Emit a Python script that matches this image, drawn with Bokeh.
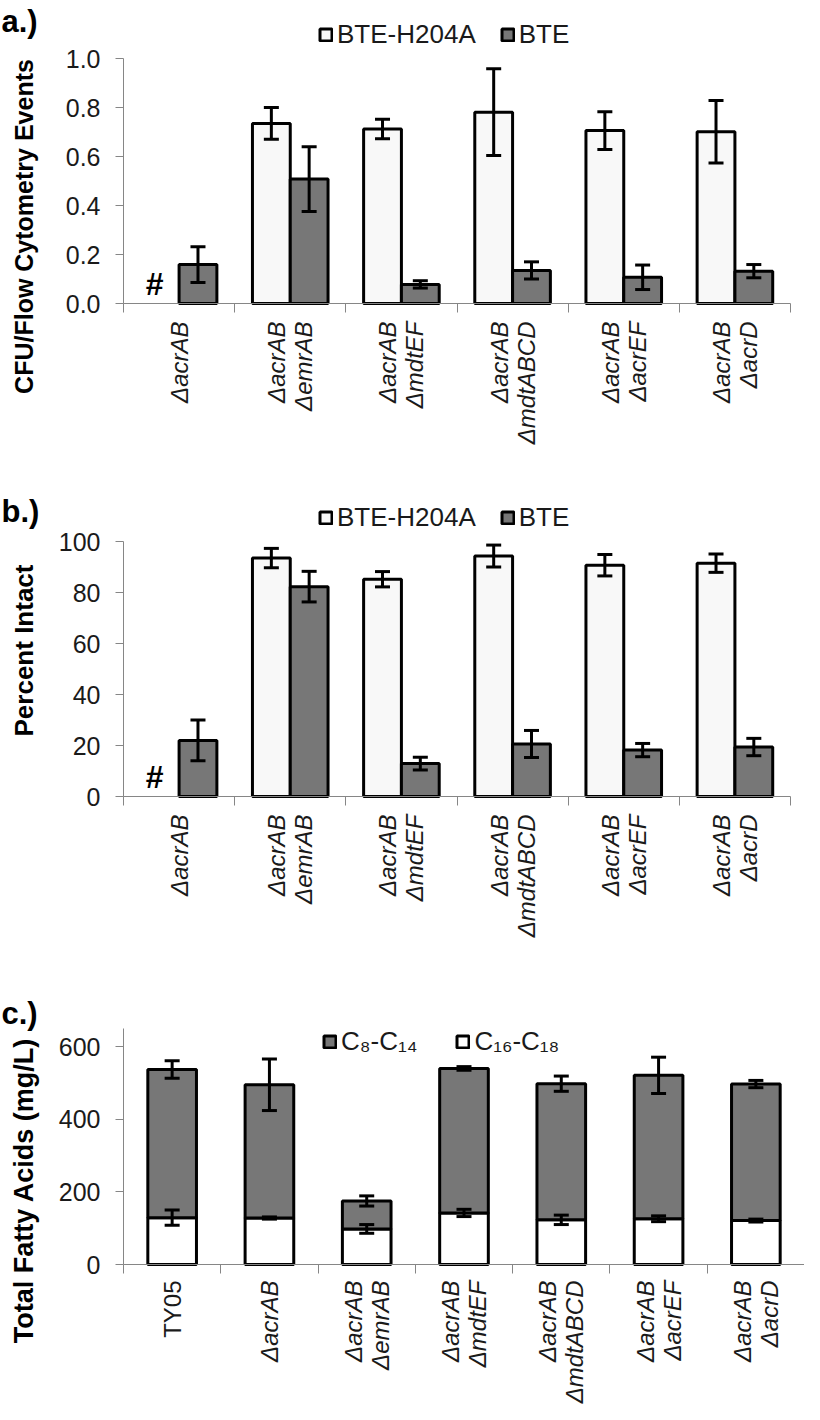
import math
from bokeh.plotting import figure
from bokeh.models import (Range1d, FixedTicker, Whisker, TeeHead, ColumnDataSource,
                          Legend, LegendItem, NumeralTickFormatter)
from bokeh.layouts import column
from bokeh.embed import file_html
from bokeh.resources import INLINE
from bokeh.core.properties import value

NAN = float("nan")

# ---------------- data ----------------
strains_ab = ["ΔacrAB", "ΔacrAB\nΔemrAB", "ΔacrAB\nΔmdtEF", "ΔacrAB\nΔmdtABCD",
              "ΔacrAB\nΔacrEF", "ΔacrAB\nΔacrD"]
series_ab = ["BTE-H204A", "BTE"]

a_h204a = [NAN, 0.735, 0.712, 0.781, 0.706, 0.701]
a_h204a_err = [NAN, 0.065, 0.040, 0.177, 0.077, 0.128]
a_bte = [0.159, 0.508, 0.078, 0.135, 0.107, 0.132]
a_bte_err = [0.073, 0.132, 0.015, 0.035, 0.050, 0.027]
a_ticks = [0.0, 0.2, 0.4, 0.6, 0.8, 1.0]

b_h204a = [NAN, 93.5, 85.2, 94.3, 90.7, 91.5]
b_h204a_err = [NAN, 3.8, 3.0, 4.3, 4.2, 3.6]
b_bte = [22.0, 82.3, 12.9, 20.6, 18.2, 19.4]
b_bte_err = [8.0, 6.0, 2.5, 5.3, 2.6, 3.4]
b_ticks = [0, 20, 40, 60, 80, 100]

strains_c = ["TY05", "ΔacrAB", "ΔacrAB\nΔemrAB", "ΔacrAB\nΔmdtEF", "ΔacrAB\nΔmdtABCD",
             "ΔacrAB\nΔacrEF", "ΔacrAB\nΔacrD"]
series_c = ["C₈-C₁₄", "C₁₆-C₁₈"]
c_long = [129, 128, 98, 142, 123, 126, 121]        # C16-C18 (bottom)
c_long_err = [21, 3, 12, 10, 13, 8, 4]
c_short = [408, 367, 77, 398, 375, 395, 376]       # C8-C14 (top)
c_short_err = [24, 71, 14, 5, 21, 50, 10]
c_ticks = [0, 200, 400, 600]

# ---------------- style / layout ----------------
FONT = "Liberation Sans"
GRAY = "#868686"
TXT = "#1a1a1a"
LIGHT = "#f8f8f8"
DARK = "#777777"
W = 804          # figure width
AX = 123         # pixel column of the value axis


class Geo:
    """Pixel layout of one panel; the plotting frame covers the whole canvas."""
    def __init__(self, H, n, y0, ytop, ymax, xright):
        self.H, self.n, self.y0, self.ymax = H, n, y0, ymax
        self.ppy = (y0 - ytop) / ymax
        ppx = (xright - AX) / n
        self.x0 = -0.5 - AX / ppx
        self.x1 = n - 0.5 + (W - xright) / ppx
        self.yb = -(H - y0) / self.ppy
        self.yt = ymax + ytop / self.ppy

    def ydata(self, px):
        return (self.y0 - px) / self.ppy


def base_fig(g, ticks, ylabel, ylab_size, ylab_px, letter, letter_px):
    p = figure(width=W, height=g.H, output_backend="svg", toolbar_location=None,
               x_range=Range1d(g.x0, g.x1), y_range=Range1d(g.yb, g.yt),
               min_border=0, min_border_left=0, min_border_right=0,
               min_border_top=0, min_border_bottom=0)
    p.title.visible = False
    p.outline_line_color = None
    p.xgrid.grid_line_color = None
    p.ygrid.grid_line_color = None
    p.background_fill_color = "white"
    p.border_fill_color = "white"

    ya = p.yaxis[0]
    ya.fixed_location = -0.5
    ya.bounds = (0, g.ymax)
    ya.ticker = FixedTicker(ticks=ticks)
    ya.axis_line_color = GRAY
    ya.major_tick_line_color = GRAY
    ya.major_tick_out = 8
    ya.major_tick_in = 0
    ya.minor_tick_line_color = None
    ya.major_label_standoff = 15
    ya.major_label_text_font = FONT
    ya.major_label_text_font_size = "25px"
    ya.major_label_text_color = TXT

    xa = p.xaxis[0]
    xa.fixed_location = 0
    xa.bounds = (-0.5, g.n - 0.5)
    xa.ticker = FixedTicker(ticks=list(range(g.n)), minor_ticks=[i - 0.5 for i in range(g.n + 1)])
    xa.axis_line_color = GRAY
    xa.major_tick_line_color = None
    xa.major_tick_out = 8
    xa.major_tick_in = 0
    xa.minor_tick_line_color = GRAY
    xa.minor_tick_out = 9
    xa.minor_tick_in = 0
    xa.major_label_standoff = 9
    xa.major_label_orientation = math.pi / 2
    xa.major_label_text_font = FONT
    xa.major_label_text_font_size = "24px"
    xa.major_label_text_font_style = "italic"
    xa.major_label_text_color = TXT
    xa.major_label_text_line_height = 1.0

    # value-axis title
    p.text(x=[g.x0], y=[g.ydata(ylab_px)], text=[ylabel], angle=math.pi / 2, x_offset=23,
           text_font=value(FONT), text_font_size=ylab_size, text_font_style="bold",
           text_color="black", text_align="center", text_baseline="middle")
    # panel letter
    p.text(x=[g.x0], y=[g.yt], text=[letter], x_offset=1, y_offset=letter_px,
           text_font=value(FONT), text_font_size="31px", text_font_style="bold",
           text_color="black", text_align="left", text_baseline="top")
    return p


def whisker(p, src):
    p.add_layout(Whisker(base="x", upper="upper", lower="lower", source=src, level="annotation",
                         dimension="height", line_color="black", line_width=3,
                         upper_head=TeeHead(size=15, line_color="black", line_width=3),
                         lower_head=TeeHead(size=15, line_color="black", line_width=3)))


def grouped_panel(g, white, white_err, dark, dark_err, ticks, ylabel, ylab_size, ylab_px,
                  letter, letter_px, legend_loc, fmt=None):
    n = g.n
    p = base_fig(g, ticks, ylabel, ylab_size, ylab_px, letter, letter_px)
    if fmt:
        p.yaxis[0].formatter = NumeralTickFormatter(format=fmt)
    p.xaxis[0].major_label_overrides = {i: s for i, s in enumerate(strains_ab)}
    bw = 0.34
    wi = [i for i in range(n) if white[i] == white[i]]
    src_w = ColumnDataSource(dict(
        x=[i - bw / 2 for i in wi], top=[white[i] for i in wi],
        upper=[white[i] + white_err[i] for i in wi], lower=[white[i] - white_err[i] for i in wi]))
    src_d = ColumnDataSource(dict(
        x=[i + bw / 2 for i in range(n)], top=dark,
        upper=[d + e for d, e in zip(dark, dark_err)], lower=[d - e for d, e in zip(dark, dark_err)]))
    rw = p.vbar(x="x", top="top", width=bw, bottom=0, source=src_w,
                fill_color=LIGHT, line_color="black", line_width=3)
    rd = p.vbar(x="x", top="top", width=bw, bottom=0, source=src_d,
                fill_color=DARK, line_color="black", line_width=3)
    whisker(p, src_w)
    whisker(p, src_d)
    # '#' marks the strain without a BTE-H204A measurement
    missing = [i for i in range(n) if white[i] != white[i]]
    p.text(x=[i - 0.22 for i in missing], y=[0] * len(missing), text=["#"] * len(missing),
           text_font=value(FONT), text_font_size="32px", text_font_style="bold",
           text_color="black", text_align="center", text_baseline="bottom", y_offset=-2)

    leg = Legend(items=[LegendItem(label=series_ab[0], renderers=[rw]),
                        LegendItem(label=series_ab[1], renderers=[rd])],
                 orientation="horizontal", location=legend_loc,
                 label_text_font=FONT, label_text_font_size="26px", label_text_color=TXT,
                 glyph_width=15, glyph_height=15, label_standoff=4, spacing=24,
                 padding=0, margin=0, border_line_color=None, background_fill_alpha=0)
    p.add_layout(leg, "center")
    return p


# panel a
ga = Geo(470, len(strains_ab), 303, 58, 1.0, 790)
pa = grouped_panel(ga, a_h204a, a_h204a_err, a_bte, a_bte_err, a_ticks,
                   "CFU/Flow Cytometry Events", "25px", 226, "a.)", 3, (318, 420), fmt="0.0")
# panel b
gb = Geo(470, len(strains_ab), 326, 71, 100, 790)
pb = grouped_panel(gb, b_h204a, b_h204a_err, b_bte, b_bte_err, b_ticks,
                   "Percent Intact", "26px", 180, "b.)", 23, (318, 407))

# panel c
gc = Geo(464, len(strains_c), 324, 88, 650, 804)
pc = base_fig(gc, c_ticks, "Total Fatty Acids (mg/L)", "27px", 250, "c.)", 55)
pc.xaxis[0].major_label_standoff = 7
pc.xaxis[0].major_label_overrides = {i: (s if i > 0 else "") for i, s in enumerate(strains_c)}
nc = gc.n
src_c = ColumnDataSource(dict(x=list(range(nc)), long=c_long, short=c_short))
rs = pc.vbar_stack(["long", "short"], x="x", width=0.5, source=src_c,
                   fill_color=["white", DARK], line_color="black", line_width=3)
tot = [a + b for a, b in zip(c_long, c_short)]
src_el = ColumnDataSource(dict(x=list(range(nc)),
                               upper=[v + e for v, e in zip(c_long, c_long_err)],
                               lower=[v - e for v, e in zip(c_long, c_long_err)]))
src_es = ColumnDataSource(dict(x=list(range(nc)),
                               upper=[v + e for v, e in zip(tot, c_short_err)],
                               lower=[v - e for v, e in zip(tot, c_short_err)]))
whisker(pc, src_el)
whisker(pc, src_es)
# upright (non-italic) name of the parent strain under the first group
pc.text(x=[0], y=[0], text=[strains_c[0]], angle=math.pi / 2, y_offset=16,
        text_font=value(FONT), text_font_size="24px", text_color=TXT,
        text_align="right", text_baseline="middle")
legc = Legend(items=[LegendItem(label=series_c[0], renderers=[rs[1]]),
                     LegendItem(label=series_c[1], renderers=[rs[0]])],
              orientation="horizontal", location=(322, 347),
              label_text_font=FONT, label_text_font_size="26px", label_text_color=TXT,
              glyph_width=15, glyph_height=15, label_standoff=4, spacing=38,
              padding=0, margin=0, border_line_color=None, background_fill_alpha=0)
pc.add_layout(legc, "center")

layout = column(pa, pb, pc, spacing=0)
open("out.html", "w").write(file_html(layout, INLINE))
